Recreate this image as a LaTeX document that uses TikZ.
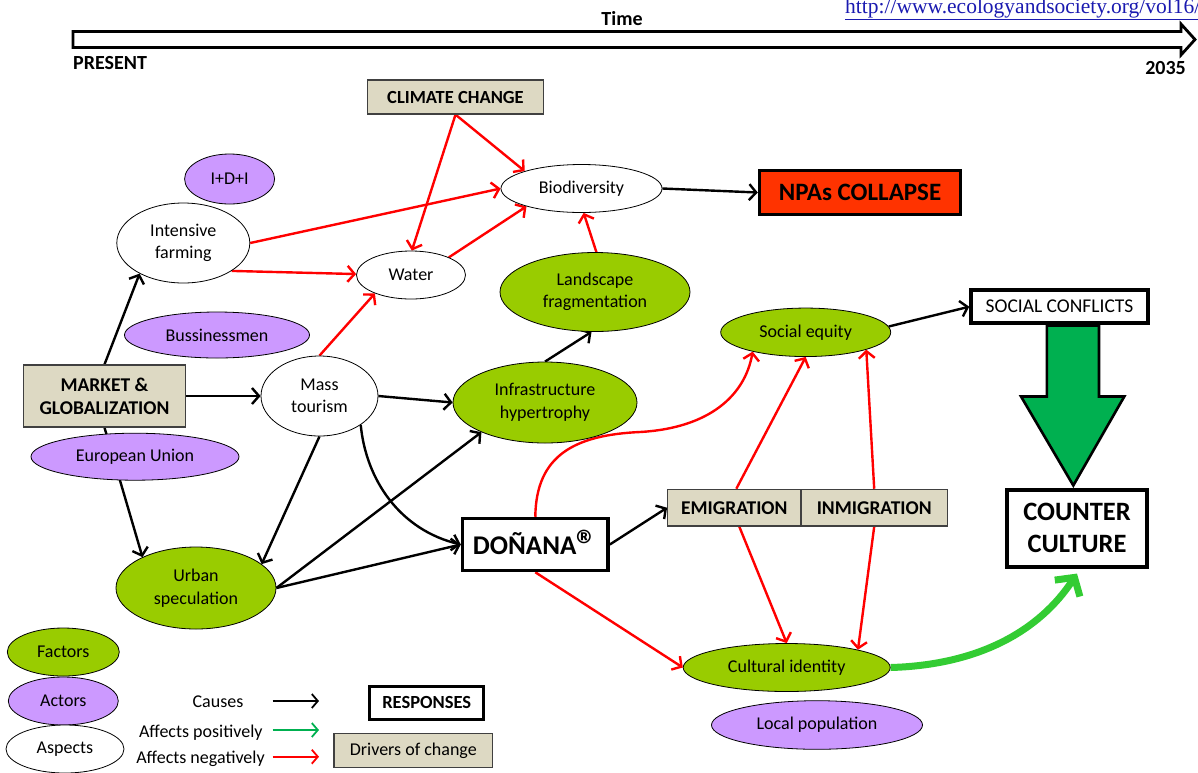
\documentclass[tikz,border=0pt]{standalone}
\usepackage{fontspec}
\setmainfont{Carlito}
\newfontfamily\urlfont{Liberation Serif}
\usetikzlibrary{shapes.geometric,arrows.meta,calc,backgrounds}
\definecolor{fgreen}{HTML}{99CC00}
\definecolor{apurple}{HTML}{CC99FF}
\definecolor{dtan}{HTML}{DDD9C3}
\definecolor{npared}{HTML}{FF3300}
\definecolor{bigg}{HTML}{00B050}
\definecolor{curveg}{HTML}{33CC33}
\definecolor{urlblue}{HTML}{1A1AB0}
\definecolor{negred}{HTML}{FF0000}
\begin{document}
\begin{tikzpicture}[x=1pt,y=-1pt,
  ell/.style={ellipse, draw=black, line width=0.8pt, inner sep=0pt, align=center, font=\fontsize{18}{22.5}\selectfont},
  fac/.style={ell, fill=fgreen},
  act/.style={ell, fill=apurple},
  asp/.style={ell, fill=white},
  drv/.style={draw=black!75, line width=1.2pt, fill=dtan, inner sep=0pt, align=center, font=\bfseries\fontsize{19.5}{23}\selectfont},
  resp/.style={draw=black, line width=3.5pt, fill=white, inner sep=0pt, align=center},
  cause/.style={draw=black, line width=2.4pt, -{Straight Barb[length=7pt,width=16pt]}},
  neg/.style={draw=negred, line width=2.4pt, -{Straight Barb[length=7pt,width=16pt]}},
  legarrow/.style={line width=1.8pt, -{Straight Barb[length=6pt,width=14pt]}},
  lbl/.style={inner sep=0pt, font=\fontsize{18}{22}\selectfont}
]
\useasboundingbox (0,0) rectangle (1198,772);
\clip (0,0) rectangle (1198,772);

% header
\node[lbl, font=\bfseries\fontsize{20}{24}\selectfont] (time) at (622,18.5) {Time};
\node[lbl, anchor=west, font=\bfseries\fontsize{20}{24}\selectfont] (present) at (73,63.5) {PRESENT};
\node[lbl, anchor=east, font=\bfseries\fontsize{20}{24}\selectfont] (y2035) at (1186,68.5) {2035};
\node[inner sep=0pt, anchor=west, text=urlblue, font=\urlfont\fontsize{21.5}{24}\selectfont] (url) at (845,9) {\underline{http://www.ecologyandsociety.org/vol16/}};

% nodes
\node[drv, minimum width=176pt, minimum height=34pt, font=\bfseries\fontsize{18.5}{22}\selectfont] (cl) at (455.5,97) {CLIMATE CHANGE};
\node[act, minimum width=90pt, minimum height=50pt] (idi) at (229.6,179) {I+D+I};
\node[asp, minimum width=161pt, minimum height=48pt] (bio) at (581.5,188.5) {Biodiversity};
\node[resp, fill=npared, minimum width=201pt, minimum height=44pt, font=\bfseries\fontsize{25}{30}\selectfont] (npa) at (860,192.5) {NPAs COLLAPSE};
\node[asp, minimum width=133pt, minimum height=80pt] (if) at (183.3,243) {Intensive\\farming};
\node[asp, minimum width=109pt, minimum height=48pt] (wa) at (411,275) {Water};
\node[fac, minimum width=190pt, minimum height=79pt] (lf) at (595,292) {Landscape\\fragmentation};
\node[act, minimum width=185pt, minimum height=46pt] (bus) at (217,335) {Bussinessmen};
\node[fac, minimum width=170pt, minimum height=48.5pt] (se) at (805.7,332.3) {Social equity};
\node[resp, minimum width=177pt, minimum height=33pt, font=\fontsize{19.5}{23}\selectfont] (sc) at (1059.5,306.7) {SOCIAL CONFLICTS};
\node[drv, minimum width=162pt, minimum height=62pt] (mg) at (104.5,396) {MARKET \&\\GLOBALIZATION};
\node[asp, minimum width=117pt, minimum height=80pt] (mt) at (319.5,396) {Mass\\tourism};
\node[fac, minimum width=184pt, minimum height=81pt] (ih) at (545,402.5) {Infrastructure\\hypertrophy};
\node[act, minimum width=208pt, minimum height=47pt] (eu) at (135,456.7) {European Union};
\node[resp, minimum width=145.5pt, minimum height=52pt, font=\bfseries\fontsize{27}{32}\selectfont] (don) at (535.3,544.5) {DOÑANA\raisebox{-5pt}{\fontsize{42}{42}\selectfont\textregistered}};
\node[drv, minimum width=133.3pt, minimum height=36.7pt] (em) at (734.3,507.7) {EMIGRATION};
\node[drv, minimum width=146.3pt, minimum height=36.7pt] (im) at (874.2,507.7) {INMIGRATION};
\node[resp, minimum width=140pt, minimum height=77pt, font=\bfseries\fontsize{26.5}{32}\selectfont] (cc) at (1077,528.3) {COUNTER\\CULTURE};
\node[fac, minimum width=160pt, minimum height=82pt] (us) at (196,588) {Urban\\speculation};
\node[fac, minimum width=207pt, minimum height=48pt] (ci) at (786.7,667.5) {Cultural identity};
\node[act, minimum width=211pt, minimum height=48.6pt] (lp) at (817,725) {Local population};

% legend
\node[fac, minimum width=112pt, minimum height=48pt] (lfac) at (63.3,652) {Factors};
\node[act, minimum width=110pt, minimum height=48pt] (lact) at (63.3,701) {Actors};
\node[asp, minimum width=118pt, minimum height=48pt] (lasp) at (65,749) {Aspects};
\node[lbl] (tcause) at (218,701.7) {Causes};
\node[lbl] (tpos) at (200.8,732.7) {Affects positively};
\node[lbl] (tneg) at (200.5,758.3) {Affects negatively};
\node[resp, minimum width=114pt, minimum height=33pt, font=\bfseries\fontsize{18.5}{22}\selectfont] (lresp) at (426.7,702.8) {RESPONSES};
\node[drv, minimum width=158.7pt, minimum height=34.3pt, font=\fontsize{18}{22}\selectfont] (ldrv) at (413.3,750.5) {Drivers of change};
\coordinate (ca1) at (272.7,701);  \coordinate (ca2) at (319,701);
\coordinate (pa1) at (272.7,730);  \coordinate (pa2) at (319,730);
\coordinate (na1) at (272.7,756.7);\coordinate (na2) at (319,756.7);
\coordinate (bt) at ([xshift=-3.7pt,yshift=2.6pt]cc.north);

\begin{pgfonlayer}{background}
% time arrow
\draw[line width=2.8pt, fill=white, line join=miter] (73,31.5) -- (1181,31.5) -- (1181,24) -- (1195,39.5) -- (1181,55) -- (1181,47.5) -- (73,47.5) -- cycle;
% big green arrow
\draw[line width=2.6pt, fill=bigg, line join=miter]
  ($(bt)+(-26.5,-160)$) -- ($(bt)+(25.7,-160)$) -- ($(bt)+(25.7,-89)$) -- ($(bt)+(51,-89)$)
  -- (bt) -- ($(bt)+(-52.3,-89)$) -- ($(bt)+(-26.5,-89)$) -- cycle;
% causes
\draw[cause] (mg.north) -- (if.-145);
\draw[cause] (mg.east) -- (mt.west);
\draw[cause] (mg.south) -- (us.150);
\draw[cause] (mt.east) -- (ih.west);
\draw[cause] (mt.south) -- (us.20);
\draw[cause] (mt.-35) .. controls (366,480) and (400,530) .. (don.west);
\draw[cause] (us.east) -- (ih.-155);
\draw[cause] (us.east) -- (don.west);
\draw[cause] (ih.north) -- (lf.-95);
\draw[cause] (bio.east) -- (npa.west);
\draw[cause] (don.east) -- (em.west);
\draw[cause] (se.4) -- (sc.west);
% negative
\draw[neg] (cl.south) -- (bio.163);
\draw[neg] (cl.south) -- (wa.88);
\draw[neg] (if.0) -- (bio.180);
\draw[neg] (if.-30) -- (wa.179);
\draw[neg] (wa.25) -- (bio.-162);
\draw[neg] (lf.88) -- (bio.-85);
\draw[neg] (mt.north) -- (wa.-153);
\draw[neg] (don.north) .. controls (536,455) and (575,435) .. (640,432) .. controls (710,428) and (745,395) .. (se.-160);
\draw[neg] ([xshift=2pt]em.north) -- (se.-90);
\draw[neg] (im.north) -- (se.-16);
\draw[neg] ([xshift=5pt]em.south) -- (ci.north);
\draw[neg] (im.south) -- (ci.14);
\draw[neg] (don.south) -- (ci.west);
% positive
\draw[draw=curveg, line width=7pt, -{Straight Barb[length=13pt,width=30pt]}] (ci.east) .. controls (980,665) and (1040,630) .. ([yshift=-5pt]cc.south);
% legend arrows
\draw[legarrow, draw=black] (ca1) -- (ca2);
\draw[legarrow, draw=bigg] (pa1) -- (pa2);
\draw[legarrow, draw=negred] (na1) -- (na2);
\end{pgfonlayer}
\end{tikzpicture}
\end{document}
